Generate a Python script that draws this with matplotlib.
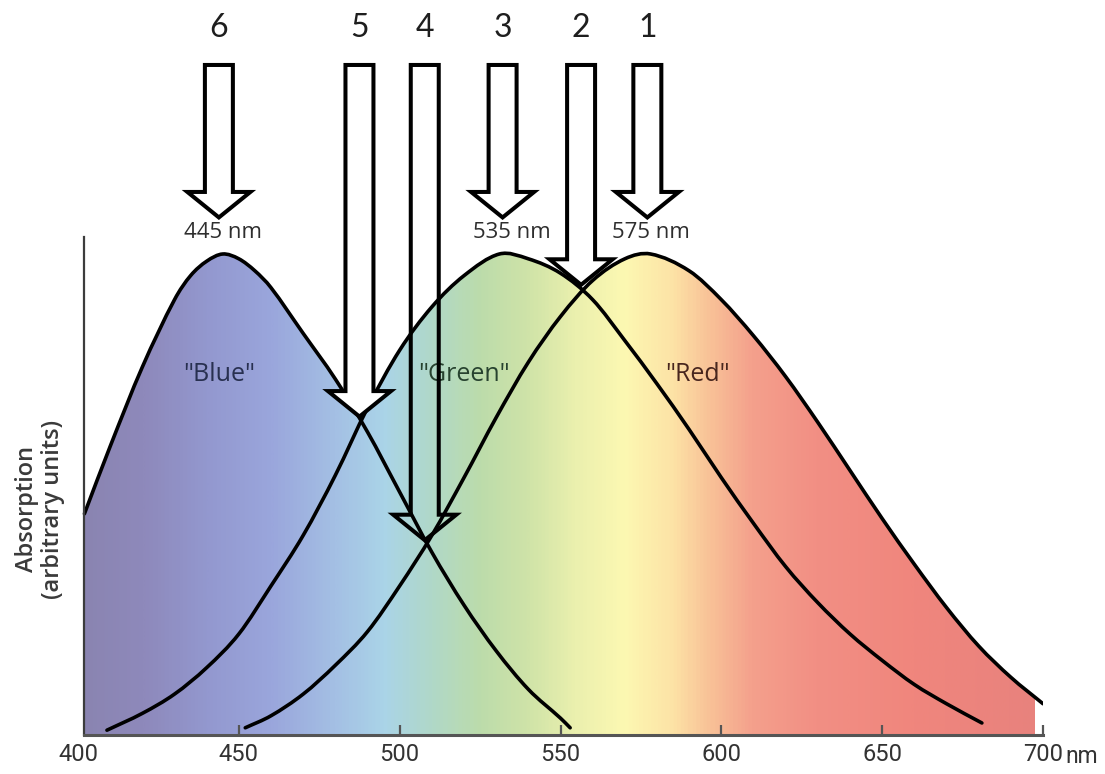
import numpy as np
import matplotlib
matplotlib.use('Agg')
import matplotlib.pyplot as plt
from matplotlib.colors import LinearSegmentedColormap
from matplotlib.patches import Polygon, PathPatch
from matplotlib.path import Path

# absorption curves (peak = 1)
blue_nm = [402, 410, 420, 430, 435, 440, 445, 450, 455, 460, 470, 480, 490, 500, 510, 520, 530, 540, 550, 553]
blue_abs = [0.46, 0.60, 0.765, 0.905, 0.955, 0.985, 1.00, 0.99, 0.965, 0.93, 0.835, 0.74, 0.63, 0.505, 0.38,
            0.27, 0.175, 0.095, 0.035, 0.015]

green_nm = [409, 420, 430, 440, 450, 460, 470, 480, 490, 500, 510, 520, 531, 540, 550, 560, 570, 580,
            590, 600, 610, 620, 630, 640, 650, 660, 670, 681]
green_abs = [0.01, 0.045, 0.085, 0.14, 0.21, 0.31, 0.415, 0.54, 0.68, 0.80, 0.89, 0.955, 1.00, 0.99, 0.96,
             0.905, 0.82, 0.73, 0.635, 0.535, 0.44, 0.35, 0.275, 0.21, 0.155, 0.105, 0.065, 0.025]

red_nm = [452, 460, 470, 480, 490, 500, 510, 520, 530, 540, 550, 560, 570, 578, 590, 600, 610, 620,
          630, 640, 650, 660, 670, 680, 690, 700]
red_abs = [0.015, 0.04, 0.085, 0.145, 0.215, 0.31, 0.415, 0.535, 0.66, 0.775, 0.87, 0.945, 0.99, 1.00,
           0.965, 0.905, 0.83, 0.745, 0.65, 0.55, 0.45, 0.355, 0.265, 0.185, 0.12, 0.065]

# spectrum colours behind the curves
spec_nm = [400, 420, 440, 460, 480, 495, 510, 525, 540, 555, 570, 585, 595, 610, 630, 660, 700]
spec_col = ['#8a84b0', '#8e89bb', '#9398cf', '#9aa6dc', '#a4c0e4', '#aad4e8', '#b0d8c8', '#bcdcab',
            '#cfe3a8', '#ebf0ae', '#fcf8b2', '#fde3a6', '#f9c699', '#f4a08c', '#f28f84', '#f0867d', '#e8827d']

# numbered arrows: x position, tip height
arrow_lbl = ['1', '2', '3', '4', '5', '6']
arrow_nm = [577, 556.4, 532, 507.8, 487.5, 443.8]
arrow_tip = [1.071, 0.931, 1.071, 0.40, 0.657, 1.071]
arrow_filled = [True, True, True, False, True, True]

peak_lbl = ['445 nm', '535 nm', '575 nm']
peak_nm = [445, 535, 578]

narrow = 'Roboto'


def smooth_path(x, y, close_to=None):
    # cubic bezier through the read points (hermite slopes)
    x = np.asarray(x, float)
    y = np.asarray(y, float)
    n = len(x)
    m = np.empty(n)
    m[0] = (y[1] - y[0]) / (x[1] - x[0])
    m[-1] = (y[-1] - y[-2]) / (x[-1] - x[-2])
    m[1:-1] = (y[2:] - y[:-2]) / (x[2:] - x[:-2])
    verts = [(x[0], y[0])]
    codes = [Path.MOVETO]
    for i in range(n - 1):
        h = x[i + 1] - x[i]
        verts += [(x[i] + h / 3, y[i] + m[i] * h / 3),
                  (x[i + 1] - h / 3, y[i + 1] - m[i + 1] * h / 3),
                  (x[i + 1], y[i + 1])]
        codes += [Path.CURVE4] * 3
    if close_to is not None:
        x0, x1 = close_to
        verts += [(x1, y[-1]), (x1, 0), (x0, 0), (x0, y[0]), (x[0], y[0])]
        codes += [Path.LINETO, Path.LINETO, Path.LINETO, Path.LINETO, Path.CLOSEPOLY]
    return Path(verts, codes)


fig = plt.figure(figsize=(11.05, 7.74), dpi=100)
ax = fig.add_axes([78 / 1105, 39 / 774, 965 / 1105, 735 / 774])

# gradient clipped to the area under each curve
lo, hi = spec_nm[0], spec_nm[-1]
cmap = LinearSegmentedColormap.from_list(
    'spec', [((n - lo) / (hi - lo), c) for n, c in zip(spec_nm, spec_col)])
xs = np.linspace(402, 697.5, 800)
curves = [(blue_nm, blue_abs), (green_nm, green_abs), (red_nm, red_abs)]
for nm, ab in curves:
    clip = PathPatch(smooth_path(nm, ab, close_to=(nm[0], nm[-1])), transform=ax.transData)
    im = ax.imshow(xs[None, :], extent=(402, 697.5, 0, 1.05), aspect='auto', cmap=cmap,
                   vmin=lo, vmax=hi, zorder=1, interpolation='bilinear')
    im.set_clip_path(clip)

for nm, ab in curves:
    ax.add_patch(PathPatch(smooth_path(nm, ab), facecolor='none', edgecolor='black',
                           lw=2.6, capstyle='round', zorder=3))

# hollow block arrows
hw, HW = 4.35, 9.8
top = 1.393
for lbl, c, t, filled in zip(arrow_lbl, arrow_nm, arrow_tip, arrow_filled):
    tip = t + 0.005
    base = tip + 0.053
    verts = [(c - hw, top), (c + hw, top), (c + hw, base), (c + HW, base), (c, tip),
             (c - HW, base), (c - hw, base)]
    ax.add_patch(Polygon(verts, closed=True, facecolor='white' if filled else 'none',
                         edgecolor='black', lw=2.9, joinstyle='miter', zorder=5))
    ax.text(c, 1.47, lbl, ha='center', va='center', fontsize=23, family='Lato', color='#1e1e1e')

for lbl, x in zip(peak_lbl, peak_nm):
    ax.text(x, 1.044, lbl, ha='center', va='center', fontsize=16, family='Open Sans',
            color='#2e2e2e', zorder=4)

ax.text(443.8, 0.75, '"Blue"', ha='center', va='center', fontsize=18, family='Open Sans', color='#283050', zorder=4)
ax.text(520, 0.75, '"Green"', ha='center', va='center', fontsize=18, family='Open Sans', color='#27422f', zorder=4)
ax.text(592.7, 0.75, '"Red"', ha='center', va='center', fontsize=18, family='Open Sans', color='#48261e', zorder=4)

ax.set_xlim(400, 700)
ax.set_ylim(0, 735 / 481)
for s in ['top', 'right']:
    ax.spines[s].set_visible(False)
ax.spines['left'].set_position(('data', 402))
ax.spines['left'].set_bounds(0, 1.035)
ax.spines['left'].set_color('#3c3c3c')
ax.spines['left'].set_linewidth(1.6)
ax.spines['bottom'].set_bounds(402, 700)
ax.spines['bottom'].set_color('#555555')
ax.spines['bottom'].set_linewidth(2.2)
ax.spines['left'].set_zorder(4)
ax.spines['bottom'].set_zorder(4)

ticks = [400, 450, 500, 550, 600, 650, 700]
ax.set_xticks(ticks)
ax.set_xticklabels([str(t) for t in ticks], fontsize=17, family=narrow, color='#333333')
ax.tick_params(axis='x', direction='in', length=7, width=1.6, color='#555555', pad=6)
ax.xaxis.get_major_ticks()[0].tick1line.set_visible(False)
ax.set_yticks([])
ax.text(707, -0.021, 'nm', ha='left', va='top', fontsize=16.5, family=narrow, color='#333333')

fig.text(40 / 1105, 1 - 509 / 774, 'Absorption\n(arbitrary units)', rotation=90, ha='center',
         va='center', multialignment='center', fontsize=17, fontweight='semibold',
         family='Open Sans', color='#3a3a3a', linespacing=1.1)

fig.savefig('out.png', dpi=100)
